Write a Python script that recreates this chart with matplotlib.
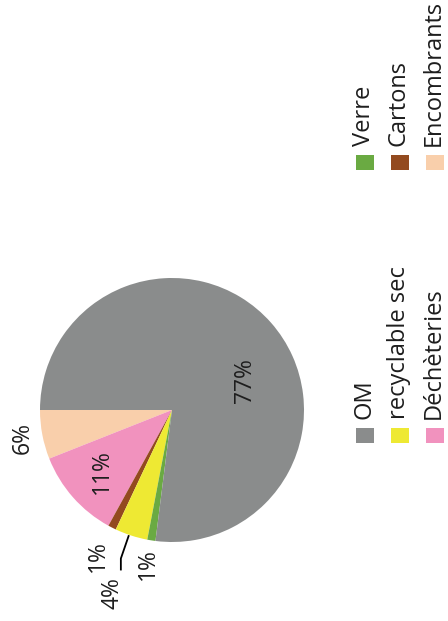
import numpy as np
import matplotlib
matplotlib.use("Agg")
import matplotlib.pyplot as plt
from matplotlib.patches import Rectangle

plt.rcParams['font.family'] = ['Open Sans', 'DejaVu Sans']

# Data (pie order, counter-clockwise from the left)
categories = ["Encombrants", "Déchèteries", "Cartons", "recyclable sec", "Verre", "OM"]
values = [6, 11, 1, 4, 1, 77]
colors = ["#F9CFAB", "#F192BE", "#934A1F", "#EEE933", "#6AAA42", "#8A8C8C"]
pct_labels = ["6%", "11%", "1%", "4%", "1%", "77%"]

# Legend order (columns of the rotated legend)
legend_order = ["OM", "recyclable sec", "Déchèteries", "Verre", "Cartons", "Encombrants"]

W, H = 448, 621
fig = plt.figure(figsize=(W / 100, H / 100), dpi=100)
ax = fig.add_axes([0, 0, 1, 1])

cx, cy, R = 172, H - 410, 132
wedges, _ = ax.pie(values, colors=colors, startangle=180, counterclock=True,
                   center=(cx, cy), radius=R,
                   wedgeprops=dict(linewidth=0))
ax.set_xlim(0, W)
ax.set_ylim(0, H)
ax.set_aspect('equal')
ax.axis('off')

# label placement (distance as fraction of radius, optional angle override)
label_dist = [1.15, 0.71, 1.24, 1.46, 1.18, 0.60]
label_angle = [None, None, None, None, None, 22]
for w, lab, d, a in zip(wedges, pct_labels, label_dist, label_angle):
    ang = (w.theta1 + w.theta2) / 2 if a is None else a
    t = np.deg2rad(ang)
    ax.text(cx + R * d * np.cos(t), cy + R * d * np.sin(t), lab,
            rotation=90, ha='center', va='center', fontsize=16.5, color='#1e1e1e')

# leader line for the 4% label
w4 = wedges[3]
m = np.deg2rad((w4.theta1 + w4.theta2) / 2 - 1)
p0 = (cx + R * 1.01 * np.cos(m), cy + R * 1.01 * np.sin(m))
p1 = (cx + R * 1.19 * np.cos(m), cy + R * 1.19 * np.sin(m))
p2 = (p1[0], p1[1] - 11)
ax.plot([p0[0], p1[0], p2[0]], [p0[1], p1[1], p2[1]], color='black', lw=1.3)

# manual rotated legend
col_x = [365, 400, 435]
grp_y = [H - 435, H - 162]
color_of = dict(zip(categories, colors))
for i, name in enumerate(legend_order):
    gx = col_x[i % 3]
    gy = grp_y[i // 3]
    ax.add_patch(Rectangle((gx - 9, gy - 7.5), 18, 15, facecolor=color_of[name],
                           edgecolor='none'))
    ax.text(gx - 1, gy + 16, name, rotation=90, rotation_mode='anchor',
            ha='left', va='center', fontsize=17, color='#1e1e1e')

fig.savefig("out.png", dpi=100)
